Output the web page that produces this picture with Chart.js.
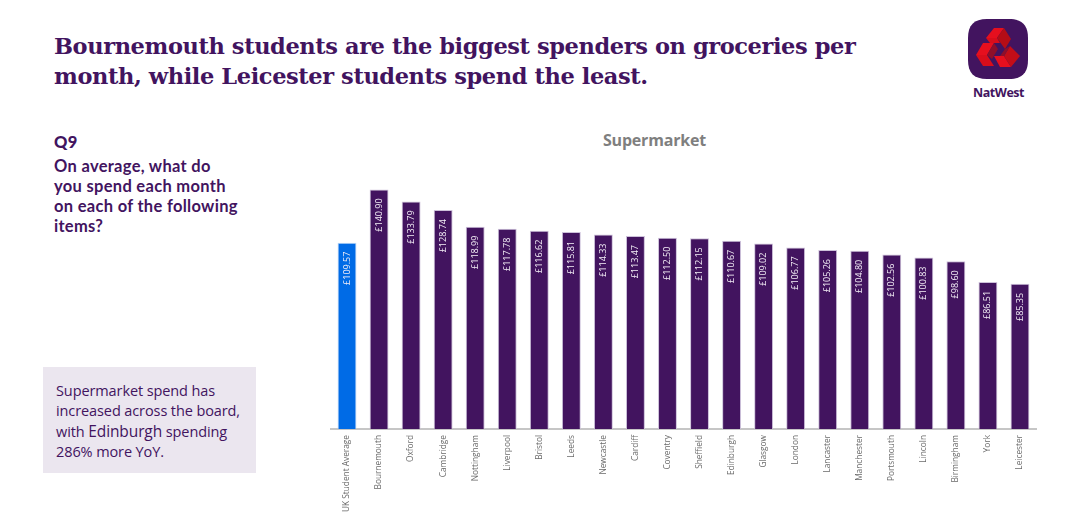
<!DOCTYPE html>
<html><head><meta charset="utf-8">
<script src="https://cdn.jsdelivr.net/npm/chart.js@4"></script>
<style>
html,body{margin:0;padding:0;background:#fff;width:1080px;height:532px;overflow:hidden}
.t{position:absolute;color:#42145f;white-space:nowrap}
#title{left:54px;top:31px;font:700 22.5px/30px "DejaVu Serif";letter-spacing:-.4px}
#q{left:54px;top:132px;font:700 16.5px/20px Lato;letter-spacing:.3px}
#q b{display:block;margin-bottom:4px}
#sub{left:603px;top:130px;font:700 16px/20px "Open Sans";color:#7f7f7f;letter-spacing:-.2px}
#box{position:absolute;left:43px;top:367px;width:213px;height:106px;background:#ebe6ef}
#boxt{left:56px;top:381px;font:400 14.5px/20px "Open Sans";letter-spacing:-.1px}
#boxt span{font-size:15.5px}
#nw{left:973px;top:84px;font:700 12.5px/18px "Open Sans";letter-spacing:-.45px}
#logo{position:absolute;left:967px;top:18px}
canvas{position:absolute;left:0;top:0}
</style></head><body>
<div class="t" id="title">Bournemouth students are the biggest spenders on groceries per<br>month, while Leicester students spend the least.</div>
<div class="t" id="q"><b>Q9</b>On average, what do<br>you spend each month<br>on each of the following<br>items?</div>
<div class="t" id="sub">Supermarket</div>
<div id="box"></div>
<div class="t" id="boxt">Supermarket spend has<br>increased across the board,<br>with <span>Edinburgh</span> spending<br>286% more YoY.</div>
<svg id="logo" width="62" height="62" viewBox="0 0 62 62">
<path d="M20 1H42C55 1 61 7 61 20V42C61 55 55 61 42 61H20C7 61 1 55 1 42V20C1 7 7 1 20 1Z" fill="#42145f"/>
<polygon points="19,20 27,10 37,10 30,20" fill="#e60f1e"/>
<polygon points="37,10 44,21 38,31 30,20" fill="#b50d16"/>
<polygon points="19,20 30,20 33,25 23,25" fill="#d90d1b"/>
<polygon points="9,37 16,25 27,25 20,37" fill="#e60f1e"/>
<polygon points="9,37 20,37 27,48 16,48" fill="#d90d1b"/>
<polygon points="27,25 31,31 25,41 20,37" fill="#8e0f2a"/>
<polygon points="28,40 38,40 45,51 34,51" fill="#e60f1e" transform="translate(-1,-2)"/>
<polygon points="37,38 43,28 53,38 44,49" fill="#c20d18"/>
<polygon points="38,31 43,28 37,38 33,38" fill="#8e0f2a"/>
</svg>
<div class="t" id="nw">NatWest</div>
<canvas id="c" width="1080" height="532"></canvas>
<script>
const categories=["UK Student Average","Bournemouth","Oxford","Cambridge","Nottingham","Liverpool","Bristol","Leeds","Newcastle","Cardiff","Coventry","Sheffield","Edinburgh","Glasgow","London","Lancaster","Manchester","Portsmouth","Lincoln","Birmingham","York","Leicester"];
const spend=[109.57,140.90,133.79,128.74,118.99,117.78,116.62,115.81,114.33,113.47,112.50,112.15,110.67,109.02,106.77,105.26,104.80,102.56,100.83,98.60,86.51,85.35];
const barColors=categories.map((c,i)=>i===0?"#006be6":"#42145f");
const borderColors=categories.map((c,i)=>i===0?"#b8d4f5":"#cdc1da");

const valueLabels={id:"valueLabels",afterDatasetsDraw(ch){
  const x=ch.ctx,m=ch.getDatasetMeta(0);
  m.data.forEach((b,i)=>{
    x.save();x.translate(b.x,b.y+9);x.rotate(-Math.PI/2);
    x.font='400 9px "Open Sans"';x.fillStyle="#f4eff7";x.textAlign="right";x.textBaseline="middle";
    x.fillText("£"+spend[i].toFixed(2),0,0);x.restore();
  });
}};
new Chart(document.getElementById("c"),{
  type:"bar",
  data:{labels:categories,datasets:[{data:spend,backgroundColor:barColors,borderColor:borderColors,borderWidth:1,barPercentage:.59,categoryPercentage:1}]},
  plugins:[valueLabels],
  options:{
    responsive:false,animation:false,devicePixelRatio:1,
    layout:{padding:{left:331,right:44,top:170,bottom:0}},
    plugins:{legend:{display:false},tooltip:{enabled:false},title:{display:false}},
    scales:{
      y:{display:false,min:0,max:152.3},
      x:{
        afterFit(s){s.height=103;},
        grid:{display:false,drawTicks:false},
        border:{color:"#c6c6c6",width:2},
        ticks:{color:"#6b6b6b",minRotation:90,maxRotation:90,autoSkip:false,padding:6,font:{family:"Open Sans",size:8.3}}
      }
    }
  }
});
</script>
</body></html>
